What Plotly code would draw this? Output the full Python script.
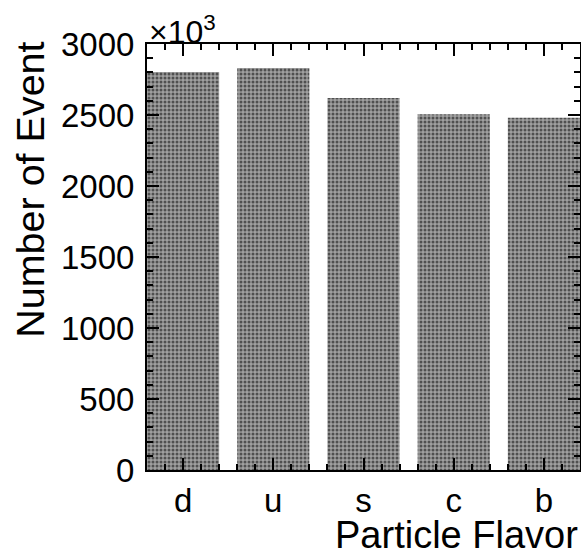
import plotly.graph_objects as go

flavors = ["d", "u", "s", "c", "b"]
events_k = [2803, 2831, 2620, 2505, 2480]  # in units of 10^3
y_ticks = [0, 500, 1000, 1500, 2000, 2500, 3000]

FONT = "Liberation Sans, Arial, Helvetica, sans-serif"

fig = go.Figure()
fig.add_trace(go.Bar(
    x=list(range(len(flavors))),
    y=events_k,
    width=0.8,
    hoverinfo="skip",
    marker=dict(
        color="white",
        line=dict(width=0),
        pattern=dict(shape=".", fgcolor="black", bgcolor="#a0a0a0", size=4, solidity=0.45),
    ),
))

fig.update_layout(
    width=581, height=554,
    margin=dict(l=147, r=1, t=44, b=84, autoexpand=False),
    paper_bgcolor="white", plot_bgcolor="white",
    showlegend=False,
    font=dict(family=FONT, color="black"),
)
fig.update_xaxes(
    automargin=False,
    range=[-0.4, 4.4],
    tickmode="array", tickvals=list(range(len(flavors))), ticktext=flavors,
    ticks="inside", ticklen=12, tickwidth=1.5, tickcolor="black",
    minor=dict(ticks="inside", ticklen=6, tickwidth=1.5, tickcolor="black", dtick=0.2, tick0=-0.4),
    showline=True, linecolor="black", linewidth=2, mirror="allticks",
    showgrid=False, zeroline=False,
    tickfont=dict(size=33, family=FONT, color="black"),
    ticklabelstandoff=0,
)
fig.update_yaxes(
    automargin=False,
    range=[0, 3000],
    tickmode="array", tickvals=y_ticks, ticktext=[str(v) for v in y_ticks],
    ticks="inside", ticklen=12, tickwidth=1.5, tickcolor="black",
    minor=dict(ticks="inside", ticklen=6, tickwidth=1.5, tickcolor="black", dtick=100, tick0=0),
    showline=True, linecolor="black", linewidth=2, mirror="allticks",
    showgrid=False, zeroline=False,
    tickfont=dict(size=33, family=FONT, color="black"),
    ticklabelstandoff=4,
)

fig.add_annotation(
    text="Particle Flavor", xref="paper", yref="paper",
    x=1.0, y=-0.153, xanchor="right", yanchor="middle", showarrow=False,
    font=dict(size=38, family=FONT, color="black"),
)
fig.add_annotation(
    text="Number of Event", xref="paper", yref="paper",
    x=-0.27, y=1.01, xanchor="center", yanchor="top", textangle=-90, showarrow=False,
    font=dict(size=39.5, family=FONT, color="black"),
)
fig.add_annotation(
    text="×10<sup>3</sup>", xref="paper", yref="paper",
    x=0.0, y=1.0, xanchor="left", yanchor="bottom", showarrow=False,
    font=dict(size=32, family=FONT, color="black"),
    yshift=-8,
)

fig.write_html(
    "out.html",
    config={"displayModeBar": False},
    post_script="document.body.style.margin='0px';document.body.style.overflow='hidden';",
)
